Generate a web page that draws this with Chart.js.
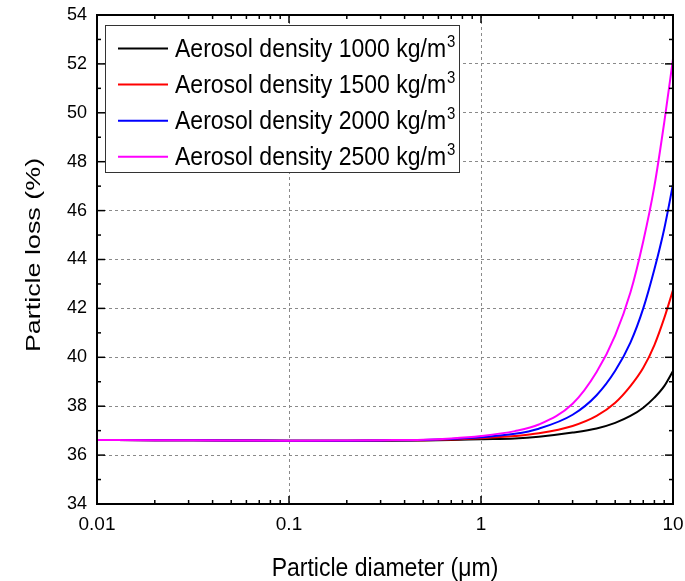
<!DOCTYPE html>
<html><head><meta charset="utf-8">
<script src="https://cdn.jsdelivr.net/npm/chart.js@4.4.1/dist/chart.umd.min.js"></script>
<style>html,body{margin:0;padding:0;background:#fff;} #wrap{width:685px;height:581px;position:relative;}</style>
</head><body><div id="wrap"><canvas id="c" width="685" height="581"></canvas></div>
<script>
// ---- data ----
const diameters   = [0.01, 0.02, 0.05, 0.1, 0.2, 0.3, 0.5, 0.7, 1, 1.5, 2, 3, 4, 5, 6, 7, 8, 9, 10];
const density1000 = [36.62, 36.61, 36.60, 36.59, 36.59, 36.59, 36.60, 36.62, 36.65, 36.68, 36.75, 36.92, 37.09, 37.32, 37.60, 37.94, 38.35, 38.82, 39.44];
const density1500 = [36.62, 36.61, 36.60, 36.59, 36.59, 36.60, 36.61, 36.64, 36.69, 36.78, 36.89, 37.19, 37.60, 38.14, 38.82, 39.57, 40.50, 41.60, 42.75];
const density2000 = [36.62, 36.61, 36.60, 36.59, 36.59, 36.60, 36.62, 36.66, 36.73, 36.87, 37.08, 37.65, 38.45, 39.45, 40.60, 42.00, 43.60, 45.25, 47.07];
const density2500 = [36.62, 36.61, 36.60, 36.59, 36.60, 36.61, 36.63, 36.68, 36.78, 36.98, 37.25, 38.10, 39.40, 40.90, 42.65, 44.75, 47.00, 49.60, 52.20];
const seriesLabels = ['Aerosol density 1000 kg/m', 'Aerosol density 1500 kg/m', 'Aerosol density 2000 kg/m', 'Aerosol density 2500 kg/m'];
const seriesSuperscript = '3';
const seriesColors = ['#000000', '#ff0000', '#0000ff', '#ff00ff'];
const yTickValues = [34, 36, 38, 40, 42, 44, 46, 48, 50, 52, 54];
const yMinorValues = [35, 37, 39, 41, 43, 45, 47, 49, 51, 53];
const xTickValues = [0.01, 0.1, 1, 10];
const xTickLabels = ['0.01', '0.1', '1', '10'];
const xMinorValues = [0.02,0.03,0.04,0.05,0.06,0.07,0.08,0.09,0.2,0.3,0.4,0.5,0.6,0.7,0.8,0.9,2,3,4,5,6,7,8,9];
const xTitle = 'Particle diameter (\u03bcm)';
const yTitle = 'Particle loss (%)';

const FONT = '"Liberation Sans", Arial, Helvetica, sans-serif';
const seriesValues = [density1000, density1500, density2000, density2500];

const datasets = seriesValues.map((vals, i) => ({
  label: seriesLabels[i] + seriesSuperscript,
  data: diameters.map((d, k) => ({x: d, y: vals[k]})),
  borderColor: seriesColors[i],
  backgroundColor: seriesColors[i],
  borderWidth: 2,
  pointRadius: 0,
  cubicInterpolationMode: 'monotone',
  fill: false,
  order: 3 - i
}));

const framePlugin = {
  id: 'frame',
  afterDraw(chart) {
    const {ctx, chartArea: a, scales: {x, y}} = chart;
    ctx.save();
    const seg = (x1, y1, x2, y2) => { ctx.beginPath(); ctx.moveTo(x1, y1); ctx.lineTo(x2, y2); ctx.stroke(); };
    ctx.strokeStyle = '#000';
    ctx.setLineDash([]);
    // ticks (inward, mirrored)
    ctx.lineWidth = 1.5;
    yTickValues.forEach(v => { const p = y.getPixelForValue(v); seg(a.left, p, a.left + 8, p); seg(a.right - 8, p, a.right, p); });
    yMinorValues.forEach(v => { const p = y.getPixelForValue(v); seg(a.left, p, a.left + 4, p); seg(a.right - 4, p, a.right, p); });
    xTickValues.forEach(v => { const p = x.getPixelForValue(v); seg(p, a.bottom, p, a.bottom - 8); seg(p, a.top, p, a.top + 8); });
    xMinorValues.forEach(v => { const p = x.getPixelForValue(v); seg(p, a.bottom, p, a.bottom - 4); seg(p, a.top, p, a.top + 4); });
    // frame
    ctx.lineWidth = 2;
    ctx.strokeRect(a.left, a.top, a.right - a.left, a.bottom - a.top);

    // legend box
    const lx = 105, ly = 25, lw = 354, lh = 147;
    ctx.fillStyle = '#fff';
    ctx.fillRect(lx, ly, lw, lh);
    ctx.lineWidth = 1;
    ctx.strokeStyle = '#333';
    ctx.strokeRect(lx + 0.5, ly + 0.5, lw, lh);
    datasets.forEach((ds, i) => {
      const cy = 48.5 + i * 36.1;
      ctx.strokeStyle = ds.borderColor;
      ctx.lineWidth = 2;
      seg(118, cy, 168, cy);
      ctx.fillStyle = '#000';
      ctx.font = '23px ' + FONT;
      ctx.textBaseline = 'alphabetic';
      ctx.textAlign = 'left';
      ctx.save();
      ctx.translate(175, cy + 8.3);
      ctx.scale(1, 1.1);
      ctx.fillText(seriesLabels[i], 0, 0);
      const w = ctx.measureText(seriesLabels[i]).width;
      ctx.font = '15px ' + FONT;
      ctx.fillText(seriesSuperscript, w + 1, -9);
      ctx.restore();
    });

    // axis titles
    ctx.fillStyle = '#000';
    ctx.textAlign = 'center';
    ctx.textBaseline = 'alphabetic';
    ctx.font = '23px ' + FONT;
    ctx.save();
    ctx.translate((a.left + a.right) / 2, 576);
    ctx.scale(1, 1.1);
    ctx.fillText(xTitle, 0, 0);
    ctx.restore();

    ctx.font = '21px ' + FONT;
    ctx.save();
    ctx.translate(40, 255);
    ctx.rotate(-Math.PI / 2);
    ctx.scale(1.28, 1);
    ctx.fillText(yTitle, 0, 0);
    ctx.restore();
    ctx.restore();
  }
};

new Chart(document.getElementById('c'), {
  type: 'line',
  data: { datasets },
  options: {
    responsive: false,
    animation: false,
    layout: { padding: { top: 15, right: 12, left: 0, bottom: 0 } },
    plugins: { legend: { display: false }, tooltip: { enabled: false } },
    scales: {
      x: {
        type: 'logarithmic', min: 0.01, max: 10, position: 'bottom',
        afterBuildTicks: s => { s.ticks = xTickValues.map(v => ({ value: v, major: true })); },
        afterFit: s => { s.height = 77; s.paddingLeft = 0; s.paddingRight = 0; },
        grid: { color: '#8a8a8a', lineWidth: 1, drawTicks: false },
        border: { display: false, dash: [3, 3] },
        ticks: {
          autoSkip: false, maxRotation: 0, padding: 9, color: '#000',
          font: { size: 19, family: FONT },
          callback: (v) => { const k = xTickValues.findIndex(t => Math.abs(t - v) < 1e-9); return k >= 0 ? xTickLabels[k] : ''; }
        }
      },
      y: {
        type: 'linear', min: 34, max: 54, position: 'left',
        afterBuildTicks: s => { s.ticks = yTickValues.map(v => ({ value: v })); },
        afterFit: s => { s.width = 97; s.paddingTop = 0; s.paddingBottom = 0; },
        grid: { color: '#8a8a8a', lineWidth: 1, drawTicks: false },
        border: { display: false, dash: [3, 3] },
        ticks: { padding: 10, color: '#000', font: { size: 18, family: FONT }, callback: v => String(v) }
      }
    }
  },
  plugins: [framePlugin]
});
</script>
</body></html>
